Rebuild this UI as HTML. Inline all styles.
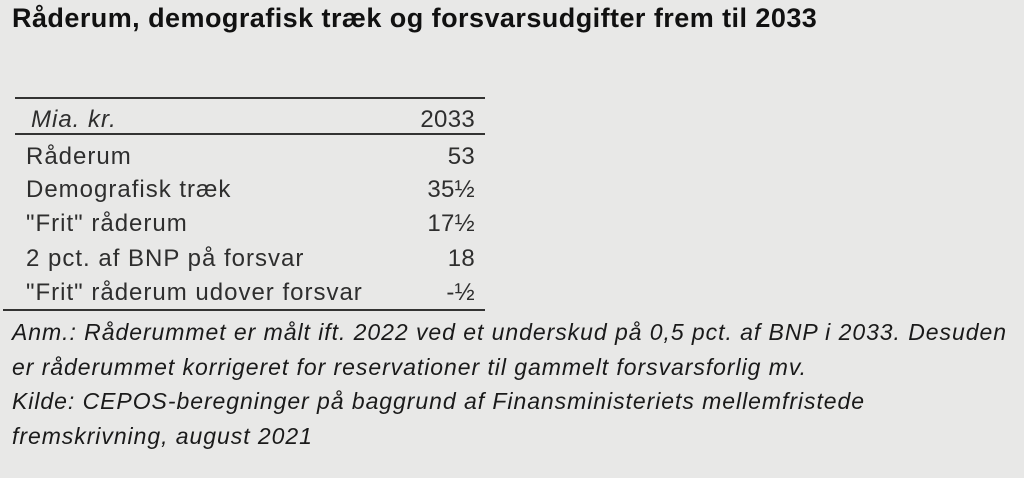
<!DOCTYPE html>
<html><head><meta charset="utf-8"><style>
body{margin:0;width:1024px;height:478px;background:#e8e8e7;font-family:"Liberation Sans",sans-serif;color:#2e2e2e;position:relative;overflow:hidden}
.t{position:absolute;left:12px;top:3px;font-size:27px;font-weight:bold;color:#111;letter-spacing:0.45px}
.l{position:absolute;height:2px;background:#333}
.r{position:absolute;font-size:24px;line-height:26px;white-space:nowrap;letter-spacing:1px}
.v{position:absolute;right:calc(1024px - 475px);font-size:24px;line-height:26px;text-align:right;letter-spacing:0.3px}
.n{position:absolute;left:12px;font-size:23px;font-style:italic;line-height:26px;white-space:nowrap;color:#1a1a1a;letter-spacing:0.95px}
</style></head><body>
<div class="t">Råderum, demografisk træk og forsvarsudgifter frem til 2033</div>
<div class="l" style="left:15px;width:470px;top:97px"></div>
<div class="l" style="left:15px;width:470px;top:133px"></div>
<div class="l" style="left:3px;width:482px;top:309px"></div>
<div class="r" style="left:31px;top:107px;font-style:italic">Mia. kr.</div><div class="v" style="top:107px">2033</div>
<div class="r" style="left:26px;top:144px">Råderum</div><div class="v" style="top:144px">53</div>
<div class="r" style="left:26px;top:177px">Demografisk træk</div><div class="v" style="top:177px">35½</div>
<div class="r" style="left:26px;top:211px">"Frit" råderum</div><div class="v" style="top:211px">17½</div>
<div class="r" style="left:26px;top:246px">2 pct. af BNP på forsvar</div><div class="v" style="top:246px">18</div>
<div class="r" style="left:26px;top:280px">"Frit" råderum udover forsvar</div><div class="v" style="top:280px">-½</div>
<div class="n" style="top:319px">Anm.: Råderummet er målt ift. 2022 ved et underskud på 0,5 pct. af BNP i 2033. Desuden</div>
<div class="n" style="top:354px">er råderummet korrigeret for reservationer til gammelt forsvarsforlig mv.</div>
<div class="n" style="top:388px">Kilde: CEPOS-beregninger på baggrund af Finansministeriets mellemfristede</div>
<div class="n" style="top:423px">fremskrivning, august 2021</div>
</body></html>
